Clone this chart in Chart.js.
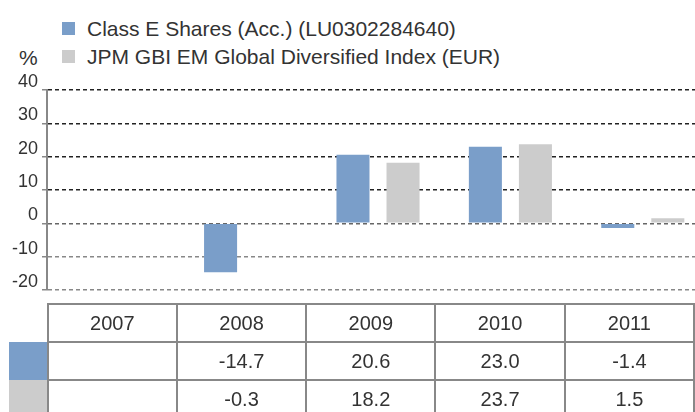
<!DOCTYPE html>
<html>
<head>
<meta charset="utf-8">
<script src="https://cdn.jsdelivr.net/npm/chart.js@4"></script>
<style>
  html, body { margin: 0; padding: 0; width: 695px; height: 412px; overflow: hidden; background: #fff; }
  body { position: relative; font-family: "Liberation Sans", Arial, sans-serif; color: #333; }
  #chartBox { position: absolute; left: 0; top: 0; width: 709px; height: 310px; }
  .legend { position: absolute; left: 87px; font-size: 21px; line-height: 24px; white-space: nowrap; }
  .sw { position: absolute; left: 62px; width: 13px; height: 13px; }
  #unit { position: absolute; left: 19px; top: 46px; font-size: 21px; line-height: 24px; }
  #dataTable { position: absolute; left: 9px; top: 303px; border-collapse: collapse; font-size: 20px; }
  #dataTable td { height: 36px; padding: 0; text-align: center; }
  #dataTable td.cell { width: 128px; border: 2px solid #888; }
  #dataTable td.key { width: 38px; }
</style>
</head>
<body>
<div class="sw" style="top:22px;background:#7a9ec9"></div>
<div class="legend" style="top:17px">Class E Shares (Acc.) (LU0302284640)</div>
<div class="sw" style="top:50px;background:#cccccc"></div>
<div class="legend" style="top:45px">JPM GBI EM Global Diversified Index (EUR)</div>
<div id="unit">%</div>
<div id="chartBox"><canvas id="perfChart"></canvas></div>
<table id="dataTable"></table>
<script>
// values
const years = ["2007", "2008", "2009", "2010", "2011"];
const fundName = "Class E Shares (Acc.) (LU0302284640)";
const indexName = "JPM GBI EM Global Diversified Index (EUR)";
const fundValues = [null, -14.7, 20.6, 23.0, -1.4];
const indexValues = [null, -0.3, 18.2, 23.7, 1.5];
const fundColor = "#7a9ec9";
const indexColor = "#cccccc";

// build the table under the chart
function buildTable() {
  const table = document.getElementById("dataTable");
  let html = "<tr><td class='key'></td>";
  years.forEach((y) => { html += `<td class='cell'>${y}</td>`; });
  html += "</tr>";
  [[fundValues, fundColor], [indexValues, indexColor]].forEach(([vals, col]) => {
    html += `<tr><td class='key' style='background:${col}'></td>`;
    vals.forEach((v) => { html += `<td class='cell'>${v === null ? "" : v.toFixed(1)}</td>`; });
    html += "</tr>";
  });
  table.innerHTML = html;
}
buildTable();

const ctx = document.getElementById("perfChart").getContext("2d");

new Chart(ctx, {
  type: "bar",
  data: {
    labels: years,
    datasets: [
      { label: fundName, data: fundValues, backgroundColor: fundColor },
      { label: indexName, data: indexValues, backgroundColor: indexColor },
    ],
  },
  options: {
    responsive: true,
    maintainAspectRatio: false,
    animation: false,
    layout: { padding: { top: 90, bottom: 20, right: 0, left: 0 } },
    datasets: { bar: { categoryPercentage: 0.756, barPercentage: 0.66 } },
    plugins: { legend: { display: false }, tooltip: { enabled: false } },
    scales: {
      x: { display: false },
      y: {
        min: -20,
        max: 40,
        afterFit: (scale) => { scale.width = 47; },
        ticks: {
          stepSize: 10,
          color: "#333",
          padding: 4,
          labelOffset: -8,
          font: { family: "Liberation Sans", size: 18 },
        },
        grid: {
          color: (c) => (c.tick && c.tick.value > 0 ? "#222" : c.tick && c.tick.value === 0 ? "#666" : "#888"),
          tickColor: "#888",
          lineWidth: 1.5,
          tickLength: 5,
        },
        border: { display: true, color: "#888", width: 2, dash: [4, 3] },
      },
    },
  },
});
</script>
</body>
</html>
